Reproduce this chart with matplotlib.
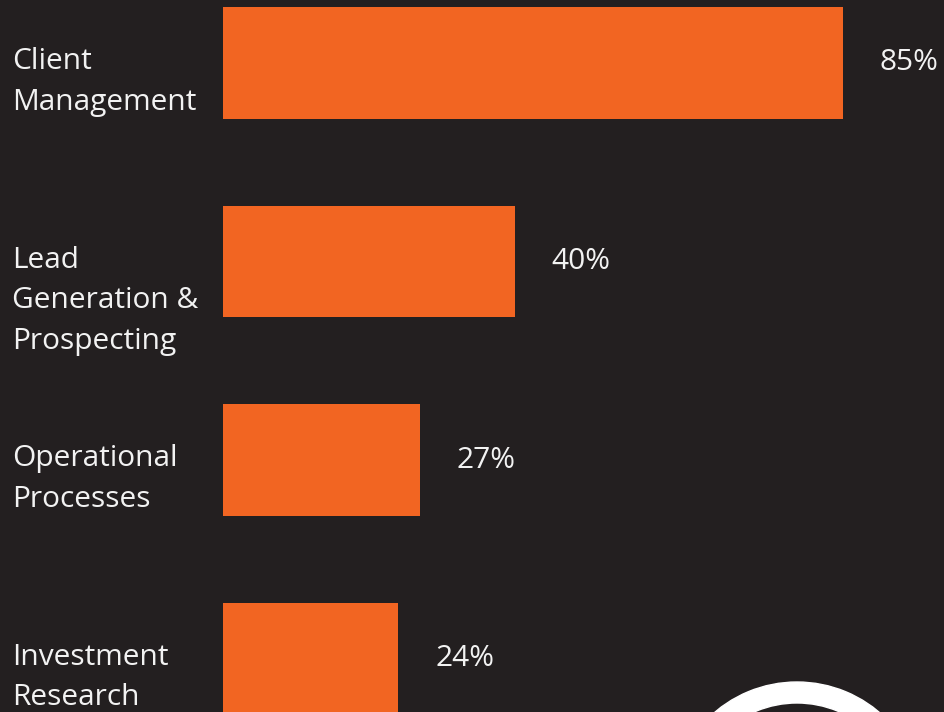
import matplotlib
matplotlib.use('Agg')
import matplotlib.pyplot as plt
from matplotlib.patches import Annulus

# Share of respondents by area
categories = ['Client\nManagement', 'Lead\nGeneration &\nProspecting',
              'Operational\nProcesses', 'Investment\nResearch']
values = [85, 40, 27, 24]
value_labels = ['85%', '40%', '27%', '24%']

bg = '#231F20'
orange = '#F26522'
txt = '#F2F2F2'
plt.rcParams['font.family'] = ['Open Sans', 'DejaVu Sans']

fig = plt.figure(figsize=(9.45, 7.12), dpi=100, facecolor=bg)
ax = fig.add_axes([0, 0, 1, 1])
ax.set_facecolor(bg)

ypos = list(range(len(categories)))
ax.barh(ypos, values, height=0.56, color=orange, edgecolor='none')

# pixel geometry -> data limits
px_per_unit = 620 / 85
ax.set_xlim(-223 / px_per_unit, (945 - 223) / px_per_unit)
step = 198.5
ax.set_ylim((712 - 63) / step, -63 / step)
ax.axis('off')

for y, v, lab, cat in zip(ypos, values, value_labels, categories):
    ax.text(v + 37 / px_per_unit, y, lab, color=txt, fontsize=21.5,
            va='center', ha='left')
    ax.text(12 / 945, y - 16 / step, cat, color=txt, fontsize=21.5,
            va='top', ha='left', linespacing=1.53,
            transform=ax.get_yaxis_transform())

# white ring at bottom right
ring = Annulus((797, -97), 127, 21, transform=None, color='white', clip_on=False)
fig.patches.append(ring)
ring.set_figure(fig)

fig.savefig('out.png', dpi=100, facecolor=bg)
